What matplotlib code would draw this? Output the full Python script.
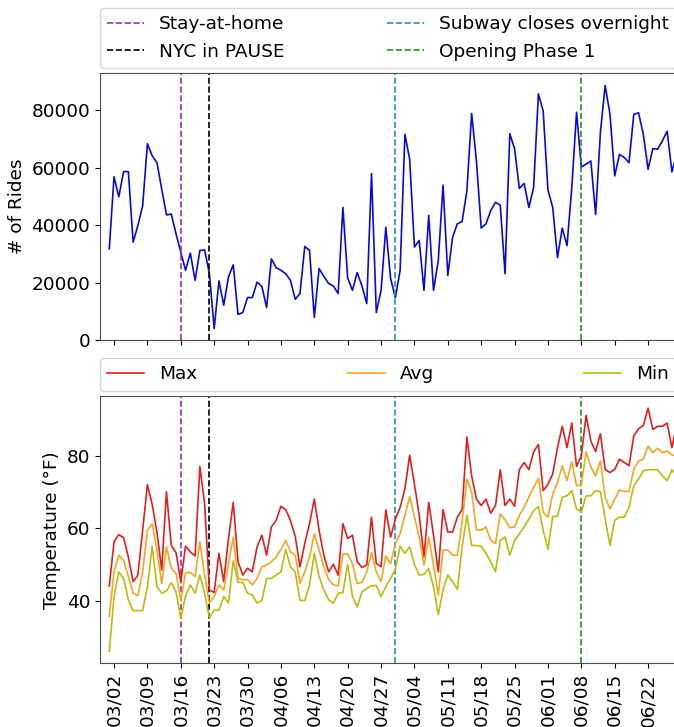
import numpy as np
import pandas as pd
import matplotlib
matplotlib.use('Agg')
import matplotlib.pyplot as plt
import matplotlib.dates as mdates

# daily values, 2020-03-01 .. 2020-06-28
dates = pd.date_range('2020-03-01', periods=120, freq='D')

rides = [31800, 56900, 49900, 58700, 58700, 34100, 39900, 46800, 68400, 64200,
         61800, 52600, 43600, 43900, 37000, 30600, 24300, 30300, 20800, 31200,
         31400, 23100, 4000, 20600, 12100, 22000, 26200, 8900, 9600, 14800,
         14800, 20200, 18700, 11300, 28300, 25200, 24300, 23100, 20800, 14200,
         16200, 32600, 31200, 7900, 24900, 22200, 19700, 18800, 16200, 46200,
         21600, 17300, 23500, 18800, 12700, 58000, 9600, 17300, 39300, 21400,
         14800, 24300, 71700, 63000, 32400, 34700, 17300, 43400, 17300, 27700,
         54000, 22500, 35800, 40500, 41300, 52000, 79000, 62400, 39000, 40500,
         45100, 48000, 47000, 23100, 71900, 66700, 52800, 54600, 46200, 53200,
         85800, 79800, 52300, 46200, 28700, 39000, 32900, 53200, 79400, 60300,
         61300, 62400, 43700, 72300, 88700, 78800, 57200, 64700, 63600, 61800,
         78600, 79200, 71700, 59500, 66700, 66500, 69400, 72800, 58600, 64700]

t_max = [44.1, 56.3, 58.3, 57.4, 52.1, 45.3, 47.1, 59.5, 72.1, 66.6,
         59.0, 48.5, 70.1, 55.3, 53.3, 45.3, 55.1, 53.5, 52.4, 77.1,
         66.8, 43.0, 42.3, 53.1, 45.3, 57.2, 67.2, 50.8, 47.1, 49.0,
         48.0, 54.9, 58.1, 52.6, 60.4, 62.2, 66.1, 65.2, 62.2, 57.8,
         49.4, 55.8, 61.3, 68.1, 59.5, 52.6, 48.0, 50.1, 47.1, 61.3,
         57.2, 58.1, 50.8, 49.2, 49.9, 63.1, 50.3, 49.4, 65.1, 57.6,
         62.6, 65.8, 70.9, 80.2, 72.2, 63.6, 52.1, 67.2, 58.1, 48.0,
         65.2, 59.0, 59.0, 63.1, 65.2, 85.2, 74.5, 68.1, 66.3, 68.1,
         64.2, 66.3, 76.2, 66.3, 68.1, 66.1, 76.2, 78.2, 76.2, 81.1,
         83.2, 70.4, 72.2, 75.0, 82.3, 88.2, 82.3, 89.1, 77.1, 80.0,
         91.2, 84.1, 81.2, 86.1, 76.3, 75.4, 76.3, 79.1, 78.2, 77.3,
         85.5, 87.5, 88.4, 93.2, 87.3, 88.2, 88.2, 89.1, 82.3, 88.7]

t_avg = [35.7, 48.0, 52.6, 51.2, 46.7, 42.1, 41.4, 48.0, 59.5, 61.3,
         54.0, 44.8, 54.9, 49.0, 47.6, 40.0, 47.8, 47.8, 46.7, 56.3,
         47.1, 39.4, 41.2, 44.4, 43.0, 50.3, 57.6, 46.2, 45.8, 45.9,
         44.4, 46.2, 49.4, 49.9, 50.8, 52.1, 54.2, 56.7, 53.5, 52.6,
         44.8, 48.0, 52.1, 58.5, 54.0, 49.4, 45.9, 44.4, 44.1, 52.9,
         52.9, 50.3, 44.8, 45.1, 48.0, 53.3, 48.0, 45.3, 52.4, 50.3,
         55.8, 58.5, 63.6, 68.8, 63.1, 57.6, 49.9, 57.6, 49.9, 41.6,
         54.0, 54.0, 52.6, 52.6, 61.7, 73.6, 70.0, 59.6, 59.5, 60.4,
         56.7, 55.8, 64.0, 62.4, 60.2, 60.4, 63.6, 65.8, 68.6, 71.3,
         73.8, 64.5, 63.1, 69.5, 72.7, 77.3, 73.2, 78.4, 71.8, 72.0,
         81.1, 77.0, 74.5, 78.6, 68.6, 65.4, 68.1, 70.6, 70.2, 70.2,
         76.3, 78.6, 79.1, 82.7, 80.9, 82.1, 80.9, 81.4, 80.3, 80.0]

t_min = [26.1, 41.2, 48.0, 46.2, 40.3, 37.3, 37.3, 37.3, 43.9, 55.1,
         43.9, 42.1, 42.7, 45.0, 42.5, 35.0, 41.4, 44.4, 42.1, 47.1,
         42.1, 35.3, 37.4, 37.4, 41.2, 39.4, 51.1, 45.1, 45.1, 42.1,
         41.6, 39.4, 40.1, 46.2, 46.2, 47.1, 48.0, 54.2, 49.4, 48.0,
         40.1, 40.1, 44.4, 53.1, 46.7, 43.0, 40.3, 39.4, 42.1, 42.3,
         50.1, 41.2, 38.3, 42.5, 43.4, 44.2, 44.2, 41.2, 43.9, 46.2,
         48.7, 55.1, 53.1, 54.9, 50.1, 47.1, 47.3, 48.9, 43.9, 36.2,
         43.0, 47.1, 45.3, 43.2, 54.9, 63.6, 55.3, 55.3, 55.1, 53.1,
         50.8, 48.0, 56.7, 57.6, 52.6, 56.7, 58.5, 60.4, 62.6, 64.9,
         66.0, 59.5, 54.2, 63.3, 63.3, 68.6, 69.0, 70.4, 65.4, 64.5,
         69.0, 69.0, 70.4, 70.1, 62.6, 55.3, 62.2, 63.1, 63.1, 65.8,
         71.8, 73.6, 75.9, 76.2, 76.2, 76.2, 74.5, 73.2, 76.2, 74.5]

# events (vertical lines)
event_names = ['Stay-at-home', 'NYC in PAUSE', 'Subway closes overnight', 'Opening Phase 1']
event_dates = ['2020-03-16', '2020-03-22', '2020-04-30', '2020-06-08']
event_colors = ['#9b30b0', 'black', '#2a90b8', '#2e8b2e']

plt.rcParams['font.family'] = 'DejaVu Sans'
plt.rcParams['font.size'] = 13.3

fig = plt.figure(figsize=(6.74, 7.27), dpi=100)
ax1 = fig.add_axes([0.1484, 0.5323, 0.8546, 0.3668])
ax2 = fig.add_axes([0.1484, 0.0876, 0.8546, 0.3677], sharex=ax1)

ax1.plot(dates, rides, color='#0a0ad8', lw=1.2)
for name, d, c in zip(event_names, event_dates, event_colors):
    ax1.axvline(pd.Timestamp(d), color=c, ls='--', lw=1.2, label=name)
    ax2.axvline(pd.Timestamp(d), color=c, ls='--', lw=1.2)
ax1.set_ylim(bottom=0)
ax1.set_ylabel('# of Rides')

ax2.plot(dates, t_max, color='#e0201e', lw=1.2, label='Max')
ax2.plot(dates, t_avg, color='#f5a623', lw=1.2, label='Avg')
ax2.plot(dates, t_min, color='#bcbc10', lw=1.2, label='Min')
ax2.set_ylabel('Temperature (°F)')

left = mdates.date2num(pd.Timestamp('2020-03-02')) - 2.94
ax1.set_xlim(left, left + 120.8)
ax2.xaxis.set_major_locator(mdates.DayLocator(bymonthday=None, interval=7))
weekly = pd.date_range('2020-03-02', '2020-06-29', freq='7D')
ax2.set_xticks(weekly)
ax2.xaxis.set_major_formatter(mdates.DateFormatter('%m/%d'))
ax1.tick_params(labelbottom=False)
plt.setp(ax2.get_xticklabels(), rotation=90)
ax1.set_xlim(left, left + 120.8)

for ax in (ax1, ax2):
    for s in ax.spines.values():
        s.set_color('0.3')

ax1.legend(loc='lower left', bbox_to_anchor=(0, 1.02, 1, 0.2), ncol=2,
           mode='expand', borderaxespad=0)
ax2.legend(loc='lower left', bbox_to_anchor=(0, 1.02, 1, 0.2), ncol=3,
           mode='expand', borderaxespad=0)

fig.savefig('out.png', dpi=100)
